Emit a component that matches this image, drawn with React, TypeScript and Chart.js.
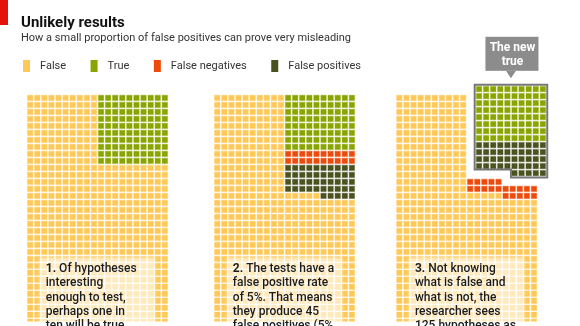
import React, { useEffect, useRef } from 'react';
import { Chart, registerables } from 'chart.js';

Chart.register(...registerables);

// ---------- data ----------
const titleText = 'Unlikely results';
const subtitleText = 'How a small proportion of false positives can prove very misleading';
const categories = ['False', 'True', 'False negatives', 'False positives'];
const categoryColors = ['#FFC857', '#8AA400', '#EE4A0C', '#4A5220'];
const hypothesesTested = 1000;
const trueHypotheses = 100;
const truePositives = 80;
const falseNegatives = 20;
const falsePositives = 45;
const calloutLines = ['The new', 'true'];
const panelNotes = [
  ['1. Of hypotheses', 'interesting', 'enough to test,', 'perhaps one in', 'ten will be true'],
  ['2. The tests have a', 'false positive rate', 'of 5%. That means', 'they produce 45', 'false positives (5%'],
  ['3. Not knowing', 'what is false and', 'what is not, the', 'researcher sees', '125 hypotheses as'],
];

// ---------- layout ----------
const W = 580;
const H = 326;
const PITCH = 7.2;
const ORIGIN_X = 26;
const ORIGIN_Y = 96;
const COLS = 20;
const HALF = 10;
const ROWS = hypothesesTested / COLS;
const PANEL_X = [0, 26.4, 52.1];
const BLOCK_SHIFT = { x: 1.25, y: -1.25 };
const NOTE_BOX = { left: 1.35, right: 17.6, top: 22.8, textLeft: 2.2 };
const FONT = 'Roboto, "Noto Sans", sans-serif';

function emptyGrid(): number[][] {
  return Array.from({ length: ROWS }, () => Array.from({ length: COLS }, () => 0));
}

function stage1(): number[][] {
  const g = emptyGrid();
  const rows = trueHypotheses / HALF;
  for (let r = 0; r < rows; r++) for (let c = HALF; c < COLS; c++) g[r][c] = 1;
  return g;
}

function stage2(): number[][] {
  const g = emptyGrid();
  const tpRows = truePositives / HALF;
  const fnRows = falseNegatives / HALF;
  for (let c = HALF; c < COLS; c++) {
    for (let r = 0; r < tpRows; r++) g[r][c] = 1;
    for (let r = tpRows; r < tpRows + fnRows; r++) g[r][c] = 2;
  }
  const full = Math.floor(falsePositives / HALF);
  const rem = falsePositives % HALF;
  const start = tpRows + fnRows;
  for (let r = start; r < start + full; r++) for (let c = HALF; c < COLS; c++) g[r][c] = 3;
  for (let c = COLS - rem; c < COLS; c++) g[start + full][c] = 3;
  return g;
}

type Pt = { x: number; y: number };

function buildPoints() {
  const sets: Pt[][] = categories.map(() => []);
  const g1 = stage1();
  const g2 = stage2();
  [g1, g2].forEach((g, p) => {
    for (let r = 0; r < ROWS; r++)
      for (let c = 0; c < COLS; c++) sets[g[r][c]].push({ x: PANEL_X[p] + c, y: r });
  });
  // stage 3: left half unchanged, right half: the rest falls, positives lift out
  const block: { lc: number; br: number; k: number }[] = [];
  for (let c = 0; c < HALF; c++)
    for (let r = 0; r < ROWS; r++) sets[g2[r][c]].push({ x: PANEL_X[2] + c, y: r });
  for (let c = HALF; c < COLS; c++) {
    const rest: number[] = [];
    for (let r = 0; r < ROWS; r++) {
      const k = g2[r][c];
      if (k !== 1 && k !== 3) rest.push(k);
    }
    const off = ROWS - rest.length;
    rest.forEach((k, i) => sets[k].push({ x: PANEL_X[2] + c, y: off + i }));
  }
  let br = 0;
  for (let r = 0; r < ROWS; r++) {
    let any = false;
    for (let c = HALF; c < COLS; c++) {
      const k = g2[r][c];
      if (k === 1 || k === 3) {
        any = true;
        block.push({ lc: c - HALF, br, k });
      }
    }
    if (any) br++;
  }
  block.forEach((b) =>
    sets[b.k].push({ x: PANEL_X[2] + HALF + b.lc + BLOCK_SHIFT.x, y: b.br + BLOCK_SHIFT.y })
  );
  const blockRows = br;
  const lastRowStart = falsePositives % HALF === 0 ? 0 : HALF - (falsePositives % HALF);
  return { sets, blockRows, lastRowStart };
}

function alpha(hex: string, a: number) {
  const n = parseInt(hex.slice(1), 16);
  return `rgba(${(n >> 16) & 255},${(n >> 8) & 255},${n & 255},${a})`;
}

export default function App() {
  const ref = useRef<HTMLCanvasElement | null>(null);
  useEffect(() => {
    if (!ref.current) return;
    const { sets, blockRows, lastRowStart } = buildPoints();

    const decor = {
      id: 'decor',
      afterDatasetsDraw(chart: any) {
        const ctx = chart.ctx as CanvasRenderingContext2D;
        const xs = chart.scales.x;
        const ys = chart.scales.y;
        const px = (v: number) => xs.getPixelForValue(v);
        const py = (v: number) => ys.getPixelForValue(v);

        // outline of the new true block
        const m = 0.62;
        const x0 = PANEL_X[2] + HALF + BLOCK_SHIFT.x;
        const y0 = BLOCK_SHIFT.y;
        const left = px(x0 - m);
        const right = px(x0 + HALF - 1 + m);
        const top = py(y0 - m);
        const bottom = py(y0 + blockRows - 1 + m);
        ctx.save();
        ctx.strokeStyle = '#777777';
        ctx.lineWidth = 2;
        ctx.beginPath();
        ctx.moveTo(left, top);
        ctx.lineTo(right, top);
        ctx.lineTo(right, bottom);
        if (lastRowStart > 0) {
          const nx = px(x0 + lastRowStart - 0.5);
          const ny = py(y0 + blockRows - 1.5);
          ctx.lineTo(nx, bottom);
          ctx.lineTo(nx, ny);
          ctx.lineTo(left, ny);
        } else {
          ctx.lineTo(left, bottom);
        }
        ctx.closePath();
        ctx.stroke();

        // callout
        const cx = (left + right) / 2;
        const bw = 53;
        const bh = 34;
        const bTop = top - 14 - bh;
        ctx.fillStyle = '#8C8C8C';
        ctx.fillRect(cx - bw / 2 + 1, bTop, bw, bh);
        ctx.beginPath();
        ctx.moveTo(cx - 5, bTop + bh);
        ctx.lineTo(cx + 5, bTop + bh);
        ctx.lineTo(cx, top - 6.5);
        ctx.closePath();
        ctx.fill();
        ctx.fillStyle = '#FFFFFF';
        ctx.font = `bold 12px ${FONT}`;
        ctx.textAlign = 'center';
        ctx.textBaseline = 'middle';
        calloutLines.forEach((t, i) => ctx.fillText(t, cx + 1.5, bTop + 11 + i * 14));
        ctx.restore();

        // note boxes
        panelNotes.forEach((lines, p) => {
          const l = px(PANEL_X[p] + NOTE_BOX.left);
          const r = px(PANEL_X[p] + NOTE_BOX.right);
          const t = py(NOTE_BOX.top);
          ctx.save();
          ctx.filter = 'blur(1.5px)';
          ctx.fillStyle = 'rgba(255,255,255,0.62)';
          ctx.fillRect(l, t, r - l, H - t + 20);
          ctx.restore();
          ctx.save();
          ctx.fillStyle = '#1C1C1C';
          ctx.textAlign = 'left';
          ctx.textBaseline = 'middle';
          const tx = px(PANEL_X[p] + NOTE_BOX.textLeft);
          lines.forEach((line, i) => {
            const y = t + 11.5 + i * 14.3;
            const mt = i === 0 ? line.match(/^(\d+\.)\s(.*)$/) : null;
            if (mt) {
              ctx.font = `bold 12px ${FONT}`;
              ctx.fillText(mt[1], tx, y);
              const w = ctx.measureText(mt[1] + ' ').width;
              ctx.font = `500 12px ${FONT}`;
              ctx.fillText(mt[2], tx + w, y);
            } else {
              ctx.font = `500 12px ${FONT}`;
              ctx.fillText(line, tx, y);
            }
          });
          ctx.restore();
        });

        // header
        ctx.save();
        ctx.fillStyle = '#E3120B';
        ctx.fillRect(0, 0, 8, 25);
        ctx.textAlign = 'left';
        ctx.textBaseline = 'alphabetic';
        ctx.fillStyle = '#111111';
        ctx.font = `bold 15px ${FONT}`;
        ctx.fillText(titleText, 21, 26.5);
        ctx.fillStyle = '#333333';
        ctx.font = `11px ${FONT}`;
        ctx.fillText(subtitleText, 21, 41);
        // legend
        let lx = 23;
        ctx.textBaseline = 'middle';
        chart.data.datasets.forEach((ds: any) => {
          ctx.fillStyle = ds.backgroundColor;
          ctx.fillRect(lx, 60, 7, 12);
          ctx.fillStyle = '#333333';
          ctx.font = `11px ${FONT}`;
          ctx.fillText(ds.label, lx + 17, 66.5);
          lx += 17 + ctx.measureText(ds.label).width + 24.5;
        });
        ctx.restore();
      },
    };

    const chart = new Chart(ref.current, {
      type: 'scatter',
      data: {
        datasets: categories.map((label, k) => ({
          label,
          data: sets[k],
          backgroundColor: categoryColors[k],
          borderColor: alpha(categoryColors[k], 0.5),
          borderWidth: 0.8,
          pointStyle: 'rect',
          pointRadius: 3.8,
          pointHoverRadius: 3.8,
        })),
      },
      options: {
        responsive: false,
        animation: false,
        events: [],
        layout: { padding: 0 },
        plugins: {
          legend: { display: false },
          title: { display: false },
          tooltip: { enabled: false },
        },
        scales: {
          x: { type: 'linear', display: false, min: -ORIGIN_X / PITCH, max: (W - ORIGIN_X) / PITCH },
          y: {
            type: 'linear',
            display: false,
            reverse: true,
            min: -ORIGIN_Y / PITCH,
            max: (H - ORIGIN_Y) / PITCH,
          },
        },
      },
      plugins: [decor],
    });
    return () => chart.destroy();
  }, []);

  return (
    <div style={{ position: 'absolute', left: 0, top: 0, width: W, height: H, background: '#fff' }}>
      <canvas ref={ref} width={W} height={H} style={{ display: 'block' }} />
    </div>
  );
}
